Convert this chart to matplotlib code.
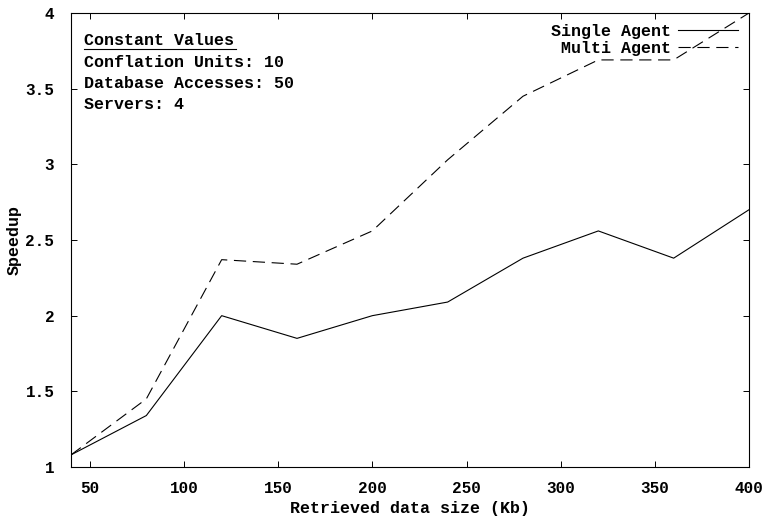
import matplotlib
matplotlib.use("Agg")
import matplotlib.pyplot as plt

data_size = [40, 80, 120, 160, 200, 240, 280, 320, 360, 400]
single_agent = [1.08, 1.34, 2.00, 1.85, 2.00, 2.09, 2.38, 2.56, 2.38, 2.70]
multi_agent = [1.08, 1.45, 2.37, 2.34, 2.56, 3.03, 3.45, 3.69, 3.69, 4.00]
x_ticks = [50, 100, 150, 200, 250, 300, 350, 400]
y_ticks = [1, 1.5, 2, 2.5, 3, 3.5, 4]
notes = ["Conflation Units: 10", "Database Accesses: 50", "Servers: 4"]

plt.rcParams['font.family'] = ['Liberation Mono', 'DejaVu Sans Mono']
plt.rcParams['font.weight'] = 'bold'

fig = plt.figure(figsize=(7.65, 5.23), dpi=100)
ax = fig.add_axes([71 / 765, 1 - 467 / 523, (749 - 71) / 765, (467 - 13) / 523])

ax.plot(data_size, single_agent, color='black', lw=0.8, label='Single Agent')
ax.plot(data_size, multi_agent, color='black', lw=0.8, dashes=(11, 6), label='Multi Agent')

ax.set_xlim(40, 400)
ax.set_ylim(1, 4)
ax.set_xticks(x_ticks)
ax.set_yticks(y_ticks)
ax.set_yticklabels(['1', '1.5', '2', '2.5', '3', '3.5', '4'])
ax.tick_params(direction='in', top=True, right=True, length=4, width=0.7, labelsize=11.5)
ax.tick_params(axis='x', pad=10)
ax.tick_params(axis='y', pad=12)
for s in ax.spines.values():
    s.set_linewidth(0.8)

ax.set_xlabel('Retrieved data size (Kb)', fontsize=12, fontweight='bold', labelpad=4)
ax.set_ylabel('Speedup', fontsize=12, fontweight='bold', labelpad=3)

leg = ax.legend(loc='upper right', frameon=False, fontsize=12, handlelength=3.6,
                markerfirst=False, labelspacing=0.14, borderaxespad=0.3, borderpad=0.35,
                handletextpad=0.45)

ax.text(0.019, 0.9405, 'Constant Values', transform=ax.transAxes, fontsize=12,
        fontweight='bold', va='center', ha='left')
ax.plot([0.019, 0.243], [0.921, 0.921], transform=ax.transAxes, color='black', lw=0.8)
for i, line in enumerate(notes):
    ax.text(0.019, 0.892 - i * 0.0465, line, transform=ax.transAxes, fontsize=12,
            fontweight='bold', va='center', ha='left')

fig.savefig('out.png', dpi=100)
